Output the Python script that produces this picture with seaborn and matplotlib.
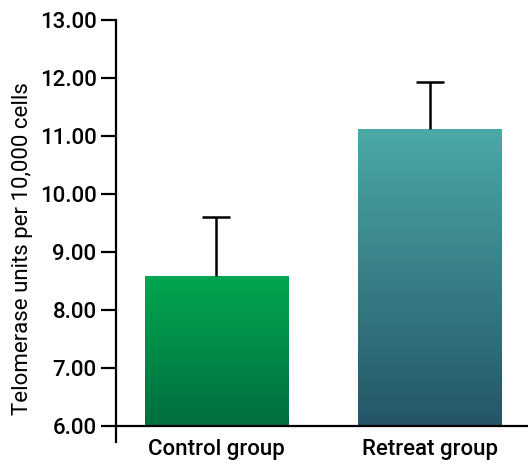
import numpy as np
import pandas as pd
import seaborn as sns
import matplotlib.pyplot as plt
from matplotlib.colors import LinearSegmentedColormap

groups = ['Control group', 'Retreat group']
means = [8.59, 11.12]
errs = [1.01, 0.81]
top_colors = ['#00A651', '#4BA9A5']
bottom_colors = ['#006F3F', '#245568']
yticks = [6, 7, 8, 9, 10, 11, 12, 13]

sns.set_style('white')
plt.rcParams['font.family'] = ['Roboto', 'DejaVu Sans']
plt.rcParams['font.weight'] = 'medium'

df = pd.DataFrame({'group': groups, 'value': means})

fig = plt.figure(figsize=(5.28, 4.68), dpi=100)
ax = fig.add_axes([0.2197, 0.0897, 0.7803, 0.8676])

sns.barplot(data=df, x='group', y='value', ax=ax, width=0.67, errorbar=None,
            color='white', linewidth=0)

# bars start at the 6.00 baseline, filled with a vertical gradient
for i, p in enumerate(ax.patches):
    p.set_y(6)
    p.set_height(means[i] - 6)
    p.set_facecolor('none')
    x0 = p.get_x()
    w = p.get_width()
    cmap = LinearSegmentedColormap.from_list('g%d' % i, [bottom_colors[i], top_colors[i]])
    grad = np.linspace(0, 1, 256).reshape(-1, 1)
    im = ax.imshow(grad, cmap=cmap, origin='lower', aspect='auto',
                   extent=[x0, x0 + w, 6, means[i]], zorder=1)
    im.set_clip_path(p)
    line, caps, bars = ax.errorbar(i, means[i], yerr=[[0], [errs[i]]], fmt='none',
                                   ecolor='black', elinewidth=1.8, capsize=10,
                                   capthick=1.8, zorder=3)
    caps[0].set_visible(False)

ax.set_xlim(-0.47, 1.46)
ax.set_ylim(6, 13)

for s in ['top', 'right']:
    ax.spines[s].set_visible(False)
for s in ['left', 'bottom']:
    ax.spines[s].set_color('black')
    ax.spines[s].set_linewidth(1.6)
ax.spines['left'].set_bounds(5.72, 13)
ax.spines['left'].set_clip_on(False)

ax.set_yticks(yticks)
ax.set_yticklabels(['%.2f' % v for v in yticks], fontsize=16, color='black')
ax.tick_params(axis='y', length=11, width=1.6, color='black', pad=3, left=True)
ax.tick_params(axis='x', length=0, pad=9, labelsize=16, labelcolor='black')
ax.set_xlabel('')
ax.set_ylabel('Telomerase units per 10,000 cells', fontsize=16, color='black')
ax.yaxis.set_label_coords(-0.201, 0.436)

fig.savefig('out.png', dpi=100)
